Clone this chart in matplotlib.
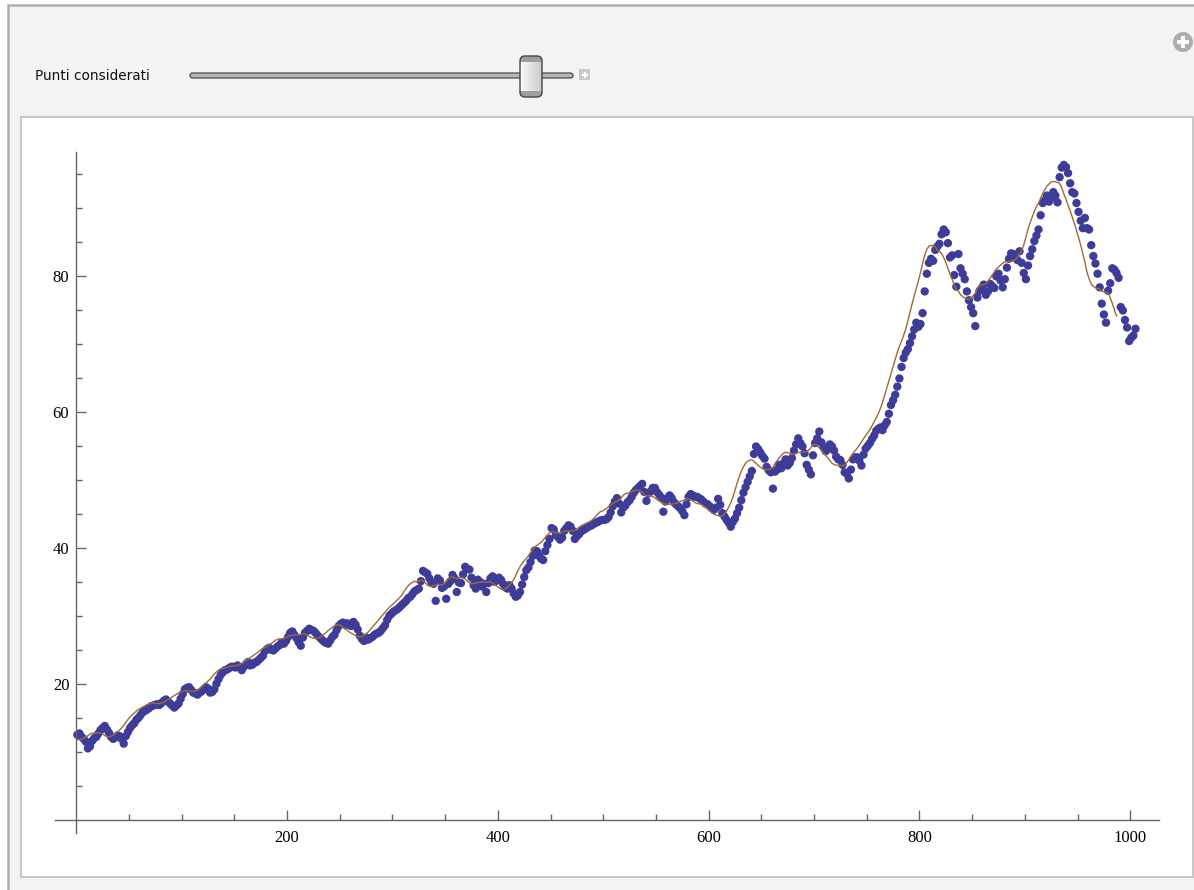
import numpy as np
import matplotlib
matplotlib.use("Agg")
import matplotlib.pyplot as plt
from matplotlib.patches import Rectangle, FancyBboxPatch, Circle

# ---- data: two interleaved sample sets, every 4 steps from step 1 and from step 3 ----
step = 4
start_a = 1
values_a = [
    # 1 .. 97
    12.6, 12.3, 11.6, 10.9, 12.1, 12.8, 13.6, 13.4, 12.3, 12.2, 12.4, 11.3, 13.0,
    14.0, 14.8, 15.5, 16.1, 16.5, 16.9, 17.1, 17.3, 17.8, 17.2, 16.6, 17.2,
    # 101 .. 197
    18.6, 19.5, 19.2, 18.7, 18.8, 19.3, 19.4, 18.9, 20.1, 21.4, 22.1, 22.4, 22.6,
    22.8, 22.1, 23.0, 22.8, 23.2, 23.6, 24.2, 25.2, 25.1, 25.3, 25.8, 26.0,
    # 201 .. 297
    27.0, 27.8, 26.8, 25.7, 27.6, 28.2, 27.9, 27.2, 26.6, 26.1, 26.5, 27.3, 28.6,
    29.1, 29.0, 28.6, 28.8, 27.2, 26.4, 26.6, 27.0, 27.5, 27.9, 28.7, 30.1,
    # 301 .. 397
    30.7, 31.1, 31.7, 32.3, 32.9, 33.7, 34.1, 36.7, 36.3, 35.0, 32.3, 35.3, 34.4,
    34.8, 36.1, 33.6, 34.9, 37.3, 36.9, 34.6, 35.4, 34.4, 33.6, 35.6, 35.1,
    # 401 .. 497
    35.7, 34.8, 34.1, 34.1, 32.9, 33.6, 35.8, 37.2, 38.9, 39.6, 38.5, 39.6, 41.4,
    42.8, 41.7, 41.6, 43.0, 43.2, 41.4, 42.1, 42.7, 43.1, 43.4, 43.8, 44.1,
    # 501 .. 597
    44.2, 44.6, 46.2, 47.4, 45.3, 46.3, 47.1, 48.2, 48.9, 49.5, 47.0, 48.4, 48.9,
    47.9, 45.4, 47.4, 47.4, 46.5, 45.9, 44.9, 47.6, 47.8, 47.6, 47.2, 46.6,
    # 601 .. 697
    46.2, 45.7, 47.3, 45.2, 44.2, 43.2, 44.4, 46.0, 48.2, 49.8, 51.4, 55.0, 54.1,
    53.2, 51.5, 48.8, 51.6, 51.8, 53.1, 52.6, 54.4, 56.2, 55.0, 52.3, 50.9,
    # 701 .. 797
    55.5, 57.2, 54.9, 54.6, 55.0, 53.5, 53.0, 51.2, 50.3, 53.1, 53.4, 52.2, 54.7,
    55.5, 56.6, 57.6, 57.4, 58.6, 61.1, 62.6, 65.0, 68.0, 69.3, 71.2, 73.2,
    # 801 .. 897
    73.0, 77.8, 82.0, 82.3, 84.4, 86.2, 86.5, 82.8, 80.2, 83.3, 80.4, 77.8, 75.5,
    72.7, 77.9, 78.8, 77.8, 78.6, 80.0, 79.4, 79.6, 82.6, 83.3, 82.4, 82.0,
    # 901 .. 997
    79.6, 83.0, 85.2, 86.9, 90.8, 91.9, 91.6, 91.9, 94.6, 96.4, 95.2, 92.4, 90.8,
    88.2, 88.6, 86.9, 83.0, 80.4, 76.0, 73.2, 79.0, 81.0, 79.8, 75.0, 72.5,
    # 1001 .. 1005
    71.0, 72.3,
]
start_b = 3
values_b = [
    # 3 .. 99
    12.8, 12.0, 10.6, 11.7, 12.3, 13.3, 13.9, 12.9, 12.0, 12.5, 12.0, 12.4, 13.6,
    14.3, 15.1, 15.9, 16.3, 16.8, 17.0, 17.0, 17.6, 17.5, 16.9, 16.9, 17.9,
    # 103 .. 199
    19.3, 19.6, 18.8, 18.5, 19.0, 19.6, 18.8, 19.3, 20.8, 21.8, 22.2, 22.6, 22.5,
    22.5, 22.6, 23.3, 22.9, 23.3, 23.9, 24.9, 25.4, 25.0, 25.6, 26.2, 26.4,
    # 203 .. 299
    27.6, 27.3, 26.2, 26.9, 27.9, 28.0, 27.6, 26.9, 26.3, 26.0, 27.0, 28.0, 28.9,
    28.8, 28.7, 29.2, 28.1, 26.7, 26.9, 26.8, 27.3, 27.6, 28.3, 29.5, 30.4,
    # 303 .. 399
    30.9, 31.4, 32.0, 32.7, 33.3, 33.9, 35.2, 36.5, 35.6, 34.8, 35.6, 34.2, 32.6,
    35.2, 35.6, 35.0, 36.2, 37.0, 35.7, 34.1, 35.1, 34.8, 34.9, 35.9, 35.3,
    # 403 .. 499
    35.4, 34.3, 34.6, 33.4, 33.1, 34.7, 36.8, 38.0, 39.7, 38.9, 38.3, 40.5, 43.0,
    42.0, 41.3, 42.6, 43.4, 42.6, 41.8, 42.5, 42.9, 43.3, 43.6, 43.9, 44.2,
    # 503 .. 599
    44.3, 45.3, 46.9, 46.6, 46.0, 46.8, 47.6, 48.6, 49.2, 48.3, 48.1, 48.9, 48.3,
    47.5, 46.9, 47.8, 46.8, 46.2, 45.5, 46.5, 48.0, 47.6, 47.4, 46.9, 46.5,
    # 603 .. 699
    45.9, 46.0, 46.4, 44.7, 43.8, 43.9, 45.2, 47.1, 49.0, 50.6, 53.9, 54.6, 53.6,
    52.0, 51.2, 51.3, 52.3, 52.5, 52.2, 53.3, 55.3, 55.5, 54.0, 51.6, 53.7,
    # 703 .. 799
    56.2, 55.6, 54.3, 55.3, 54.4, 53.1, 52.3, 51.0, 51.6, 53.4, 52.9, 53.8, 55.1,
    56.1, 57.3, 57.8, 58.1, 59.8, 61.8, 63.8, 66.7, 68.8, 70.2, 72.2, 72.6,
    # 803 .. 899
    74.6, 80.4, 82.6, 83.9, 84.8, 86.9, 84.9, 83.1, 78.5, 81.2, 79.6, 76.5, 74.6,
    76.9, 78.3, 77.3, 78.9, 78.3, 80.4, 78.4, 81.3, 83.4, 82.8, 83.7, 80.5,
    # 903 .. 999
    81.6, 84.0, 86.0, 89.0, 91.2, 91.0, 92.4, 90.9, 96.0, 96.1, 93.7, 92.2, 89.5,
    87.1, 87.1, 84.6, 81.9, 78.4, 74.4, 77.9, 81.2, 80.5, 75.5, 73.6, 70.5,
    # 1003
    71.3,
]
window = 10                     # samples per moving-average window
x_major = [200, 400, 600, 800, 1000]
y_major = [20, 40, 60, 80]
slider_label = "Punti considerati"

W, H = 1194, 890
fig = plt.figure(figsize=(W / 100, H / 100), dpi=100, facecolor="white")

# ---- panel background in pixel coordinates ----
bg = fig.add_axes([0, 0, 1, 1], zorder=0)
bg.set_xlim(0, W)
bg.set_ylim(H, 0)
bg.axis("off")

bg.add_patch(Rectangle((8, 5), W + 10, H + 10, facecolor="#f3f3f3",
                       edgecolor="#adadad", lw=1.8))
bg.add_patch(Rectangle((20.5, 117), 1172, 759.5, facecolor="white",
                       edgecolor="#c8c8c8", lw=1.5))

# slider label and track
bg.text(35, 75.5, slider_label, fontsize=9.8, family="DejaVu Sans",
        color="#111111", ha="left", va="center")
bg.add_patch(FancyBboxPatch((190, 73), 383, 5,
                            boxstyle="round,pad=0,rounding_size=2.5",
                            facecolor="#b5b5b5", edgecolor="#4d4d4d", lw=0.9))

# slider thumb with a soft shading
thumb = FancyBboxPatch((520, 56), 22, 41,
                       boxstyle="round,pad=0,rounding_size=5",
                       facecolor="none", edgecolor="#454545", lw=1.0, zorder=3)
bg.add_patch(thumb)
rows, cols = 41, 22
shade = np.ones((rows, cols, 3))
horiz = np.linspace(0.98, 0.80, cols)
shade[:, :, :] = horiz[None, :, None]
shade[:6, :, :] = 0.62
shade[-6:, :, :] = 0.62
img = bg.imshow(shade, extent=(520, 542, 97, 56), aspect="auto",
                interpolation="bilinear", zorder=2)
img.set_clip_path(thumb)
bg.set_xlim(0, W)
bg.set_ylim(H, 0)

# small "+" button next to the slider
bg.add_patch(Rectangle((579, 69), 11, 11, facecolor="#c9c9c9", edgecolor="none"))
bg.plot([581.5, 587.5], [74.5, 74.5], color="white", lw=1.6, solid_capstyle="butt")
bg.plot([584.5, 584.5], [71.5, 77.5], color="white", lw=1.6, solid_capstyle="butt")

# round "+" icon in the corner
bg.add_patch(Circle((1183, 42), 10, facecolor="#adadad", edgecolor="none"))
bg.add_patch(Rectangle((1177, 40), 12, 4, facecolor="white", edgecolor="none"))
bg.add_patch(Rectangle((1181, 36), 4, 12, facecolor="white", edgecolor="none"))

# ---- plot ----
px_left, px_right, px_top, px_bottom = 55, 1159, 152, 833
ax = fig.add_axes([px_left / W, (H - px_bottom) / H,
                   (px_right - px_left) / W, (px_bottom - px_top) / H], zorder=1)
ax.set_facecolor("none")

xa = start_a + step * np.arange(len(values_a))
xb = start_b + step * np.arange(len(values_b))
x = np.concatenate([xa, xb])
y = np.concatenate([values_a, values_b])
order = np.argsort(x)
x, y = x[order], y[order]
ma = np.convolve(y, np.ones(window) / window, mode="valid")

ax.scatter(x, y, s=36, color="#3d3d99", edgecolors="none", zorder=2)
ax.plot(x[:len(ma)], ma, color="#a06a35", lw=1.0, zorder=3)

ax.set_xlim(-20.2, 1027.3)
ax.set_ylim(-1.84, 98.3)

for side in ("top", "right"):
    ax.spines[side].set_visible(False)
ax.spines["left"].set_position(("data", 0))
ax.spines["bottom"].set_position(("data", 0))
for side in ("left", "bottom"):
    ax.spines[side].set_color("#666666")
    ax.spines[side].set_linewidth(1.0)

ax.set_xticks(x_major)
ax.set_xticks([v for v in range(50, 1001, 50) if v not in x_major], minor=True)
ax.set_yticks(y_major)
ax.set_yticks([v for v in range(5, 96, 5) if v not in y_major], minor=True)
ax.set_xticklabels([str(v) for v in x_major])
ax.set_yticklabels([str(v) for v in y_major])

ax.tick_params(which="major", direction="in", length=7, width=1.0, color="#666666",
               labelsize=12, labelcolor="black")
ax.tick_params(which="minor", direction="in", length=4, width=1.0, color="#666666")
ax.tick_params(axis="x", which="major", pad=7)
ax.tick_params(axis="y", which="major", pad=5)
for lab in ax.get_xticklabels() + ax.get_yticklabels():
    lab.set_family("Liberation Serif")

fig.savefig("out.png", dpi=100, facecolor=fig.get_facecolor())
